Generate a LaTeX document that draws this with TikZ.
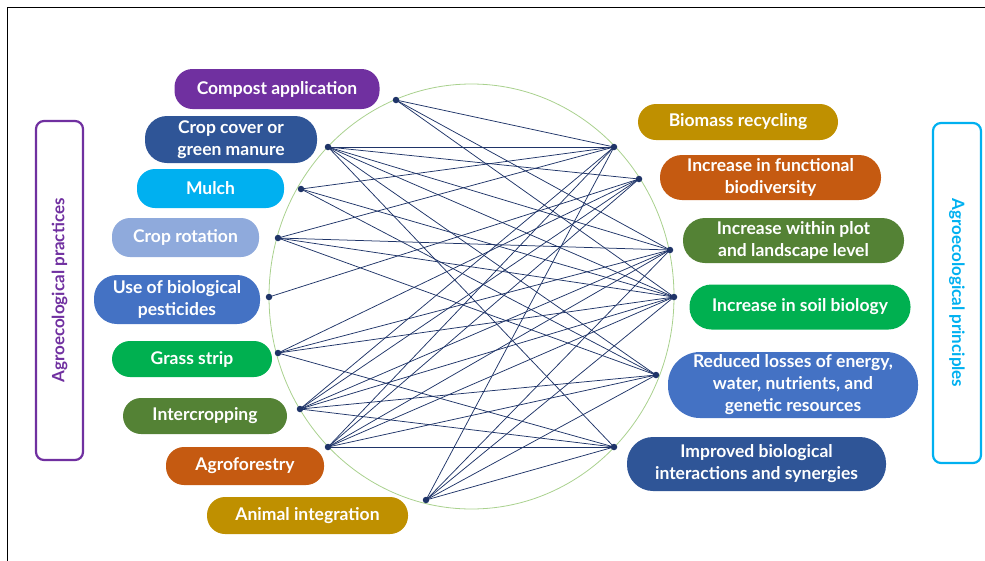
\documentclass[tikz,border=0pt]{standalone}
\usepackage{fontspec}
\setmainfont{Lato}
\usepackage{tikz}
\definecolor{purp}{HTML}{7030A0}
\definecolor{deepblue}{HTML}{2F5597}
\definecolor{skyblue}{HTML}{00B0F0}
\definecolor{paleblue}{HTML}{8FAADC}
\definecolor{midblue}{HTML}{4472C4}
\definecolor{leaf}{HTML}{00B050}
\definecolor{moss}{HTML}{548235}
\definecolor{rust}{HTML}{C55A11}
\definecolor{gold}{HTML}{BF9000}
\definecolor{ink}{HTML}{1F3468}
\definecolor{rim}{HTML}{A9D18E}
\newcommand{\boxfont}{\fontsize{17.5}{22}\selectfont\bfseries}

\begin{document}
\begin{tikzpicture}[x=1pt, y=-1pt,
  pill/.style={fill=#1, text=white, font=\boxfont, align=center, inner sep=0pt, rounded corners=18pt},
  sidebox/.style={draw=#1, text=#1, line width=2.2pt, rounded corners=8pt, font=\fontsize{17}{20}\selectfont\bfseries},
  dot/.style={circle, fill=ink, inner sep=0pt, minimum size=6.5pt},
  link/.style={ink, line width=0.75pt}]
\useasboundingbox (0,0) rectangle (985,560);
%frame
\draw[line width=0.9pt] (7,7) rectangle (1000,580);
%side labels
\node[sidebox=purp, rotate=90, minimum width=339pt, minimum height=47pt] (practices) at (59.5,290.5) {Agroecological practices};
\node[sidebox=skyblue, rotate=-90, minimum width=340pt, minimum height=48pt] (principles) at (957,293) {Agroecological principles};
%practices
\node[pill=purp, minimum width=205pt, minimum height=40pt] (compost) at (277,89) {Compost application};
\node[pill=deepblue, minimum width=172pt, minimum height=47pt, rounded corners=22pt] (cover) at (231,139.5) {Crop cover or\\green manure};
\node[pill=skyblue, minimum width=147pt, minimum height=39pt] (mulch) at (210.5,188.5) {Mulch};
\node[pill=paleblue, minimum width=147pt, minimum height=39pt] (rotation) at (185.5,237.5) {Crop rotation};
\node[pill=midblue, minimum width=166pt, minimum height=49pt, rounded corners=23pt] (pesticides) at (177,299.5) {Use of biological\\pesticides};
\node[pill=leaf, minimum width=160pt, minimum height=36pt] (grass) at (192,359) {Grass strip};
\node[pill=moss, minimum width=164pt, minimum height=36pt] (intercrop) at (205,416) {Intercropping};
\node[pill=rust, minimum width=158pt, minimum height=38pt] (agroforest) at (245,466) {Agroforestry};
\node[pill=gold, minimum width=201pt, minimum height=37pt] (animal) at (307.5,515.5) {Animal integration};
%principles
\node[pill=gold, minimum width=200pt, minimum height=36pt] (biomass) at (738,122) {Biomass recycling};
\node[pill=rust, minimum width=221pt, minimum height=45pt, rounded corners=22pt] (funcdiv) at (770.5,177.5) {Increase in functional\\biodiversity};
\node[pill=moss, minimum width=221pt, minimum height=45pt, rounded corners=22pt] (landscape) at (793.5,240.5) {Increase within plot\\and landscape level};
\node[pill=leaf, minimum width=221pt, minimum height=45pt, rounded corners=22pt] (soilbio) at (800,307) {Increase in soil biology};
\node[pill=midblue, minimum width=250pt, minimum height=66pt, rounded corners=32pt] (losses) at (793,385) {Reduced losses of energy,\\water, nutrients, and\\genetic resources};
\node[pill=deepblue, minimum width=259pt, minimum height=54pt, rounded corners=26pt] (synergy) at (756.5,464) {Improved biological\\interactions and synergies};
%circle
\draw[rim, line width=0.8pt] (471.5,296.5) ellipse [x radius=202.5pt, y radius=212.5pt];
%dots
\node[dot] (p1) at (396,100) {};
\node[dot] (p2) at (328,147) {};
\node[dot] (p3) at (301,189) {};
\node[dot] (p4) at (278,238) {};
\node[dot] (p5) at (269,297) {};
\node[dot] (p6) at (278,353) {};
\node[dot] (p7) at (300,409) {};
\node[dot] (p8) at (328,447) {};
\node[dot] (p9) at (426,500) {};
\node[dot] (q1) at (614,147) {};
\node[dot] (q2) at (639,179) {};
\node[dot] (q3) at (670,250) {};
\node[dot] (q4) at (674,297) {};
\node[dot] (q5) at (656,375) {};
\node[dot] (q6) at (614,447) {};
%links
\foreach \i/\targets in {1/{1,3,4}, 2/{1,2,3,4,5,6}, 3/{1,4,5}, 4/{1,3,4,5}, 5/{2}, 6/{2,3,4,6}, 7/{1,2,3,4,5,6}, 8/{1,2,3,4,5,6}, 9/{1,3,4,5,6}}{
   \foreach \j in \targets {\draw[link] (p\i.center) -- (q\j.center);}
}
\end{tikzpicture}
\end{document}
